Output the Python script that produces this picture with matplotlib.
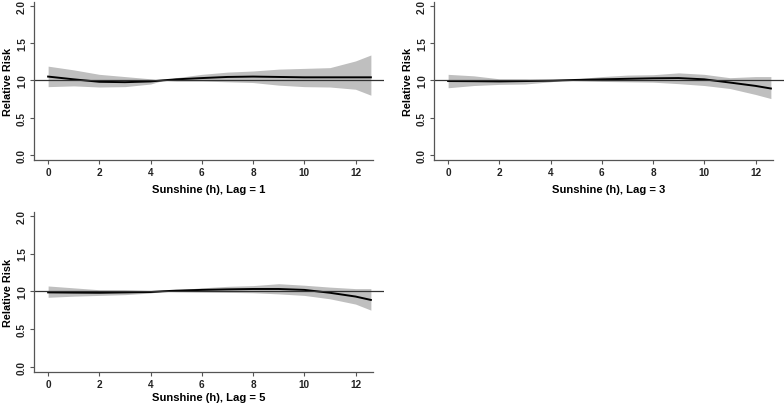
#!/usr/bin/env python3
"""Relative risk vs sunshine hours, lag 1 / 3 / 5 (three small panels)."""

import matplotlib
matplotlib.use("Agg")
import matplotlib.pyplot as plt

plt.rcParams['font.family'] = ['Liberation Sans', 'DejaVu Sans']
plt.rcParams['font.weight'] = 'bold'

# ── Data ─────────────────────────────────────────────────────────────────────

sun_h = [0, 1, 2, 3, 4, 4.5, 5, 6, 7, 8, 9, 10, 11, 12, 12.6]

rr_lag1 = [1.05, 1.013, 0.98, 0.975, 0.985, 1.0, 1.013, 1.03, 1.045, 1.05, 1.045, 1.04, 1.04, 1.04, 1.04]
hi_lag1 = [1.19, 1.14, 1.08, 1.05, 1.02, 1.0, 1.035, 1.08, 1.11, 1.125, 1.15, 1.16, 1.17, 1.26, 1.34]
lo_lag1 = [0.915, 0.925, 0.91, 0.915, 0.95, 1.0, 0.99, 0.99, 0.98, 0.97, 0.935, 0.915, 0.91, 0.88, 0.80]

rr_lag3 = [0.99, 0.988, 0.985, 0.99, 0.995, 1.0, 1.005, 1.013, 1.02, 1.027, 1.03, 1.013, 0.97, 0.925, 0.89]
hi_lag3 = [1.08, 1.06, 1.02, 1.02, 1.013, 1.0, 1.02, 1.05, 1.07, 1.075, 1.10, 1.08, 1.035, 1.05, 1.05]
lo_lag3 = [0.90, 0.93, 0.945, 0.95, 0.98, 1.0, 0.995, 0.985, 0.98, 0.975, 0.955, 0.93, 0.89, 0.81, 0.755]

rr_lag5 = [0.985, 0.982, 0.98, 0.985, 0.99, 1.0, 1.008, 1.018, 1.025, 1.03, 1.03, 1.018, 0.98, 0.93, 0.885]
hi_lag5 = [1.07, 1.045, 1.02, 1.02, 1.01, 1.0, 1.018, 1.045, 1.065, 1.075, 1.10, 1.08, 1.055, 1.035, 1.035]
lo_lag5 = [0.92, 0.935, 0.945, 0.955, 0.977, 1.0, 0.995, 0.99, 0.985, 0.98, 0.965, 0.945, 0.90, 0.83, 0.75]

lags = [1, 3, 5]
x_ticks = [0, 2, 4, 6, 8, 10, 12]
y_ticks = [0.0, 0.5, 1.0, 1.5, 2.0]

# axes rectangles in figure fraction
POS = [
    [0.0434, 0.6034, 0.446, 0.389],
    [0.5536, 0.6034, 0.446, 0.389],
    [0.0434, 0.0813, 0.446, 0.394],
]

BAND = '#bfbfbf'
AXCOL = '#555555'


def panel(fig, pos, rr, lo, hi, lag, xpad):
    ax = fig.add_axes(pos)
    ax.fill_between(sun_h, lo, hi, color=BAND, lw=0)
    ax.plot(sun_h, rr, color='black', lw=1.4)
    ax.axhline(1.0, color='#333333', lw=0.9)

    ax.set_xlim(-0.55, 13.1)
    ax.set_ylim(-0.07, 2.05)
    ax.set_xticks(x_ticks)
    ax.set_yticks(y_ticks)
    ax.set_yticklabels([f"{v:.1f}" for v in y_ticks], rotation=90, va='center')

    for s in ('top', 'right'):
        ax.spines[s].set_visible(False)
    ax.spines['bottom'].set_bounds(-0.55, 12.7)
    for s in ('left', 'bottom'):
        ax.spines[s].set_color(AXCOL)
        ax.spines[s].set_linewidth(0.9)

    ax.tick_params(colors=AXCOL, labelcolor='#222222', labelsize=7.2,
                   length=3, width=0.8, pad=2)
    ax.set_ylabel("Relative Risk", fontsize=7.8, fontweight='bold', labelpad=3)
    ax.set_xlabel(f"Sunshine (h), Lag = {lag}", fontsize=8.1,
                  fontweight='bold', labelpad=xpad)
    return ax


def main():
    fig = plt.figure(figsize=(7.84, 4.06), dpi=100)
    data = [(rr_lag1, lo_lag1, hi_lag1), (rr_lag3, lo_lag3, hi_lag3),
            (rr_lag5, lo_lag5, hi_lag5)]
    pads = [5, 5, 2.5]
    for pos, (rr, lo, hi), lag, p in zip(POS, data, lags, pads):
        panel(fig, pos, rr, lo, hi, lag, p)
    fig.savefig("out.png", dpi=100)


if __name__ == "__main__":
    main()
